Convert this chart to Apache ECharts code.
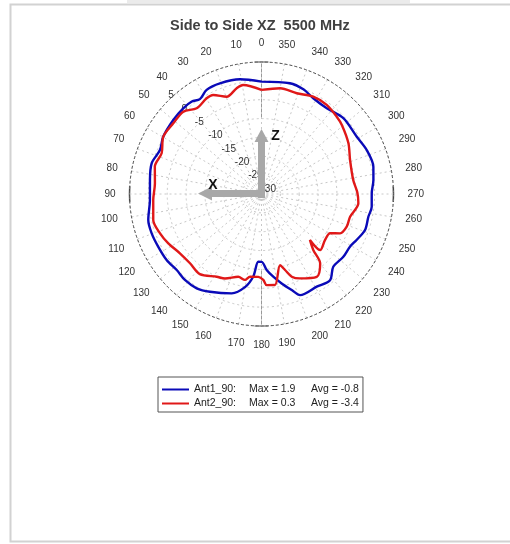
<!DOCTYPE html>
<html>
<head>
<meta charset="utf-8">
<script src="https://cdn.jsdelivr.net/npm/echarts@6/dist/echarts.min.js"></script>
<style>
html,body{margin:0;padding:0;background:#fff;}
#chart{width:510px;height:544px;}
</style>
</head>
<body>
<div id="chart"></div>
<script>
const titleText = 'Side to Side XZ  5500 MHz';
const seriesNames = ['Ant1_90', 'Ant2_90'];
const seriesMax = ['1.9', '0.3'];
const seriesAvg = ['-0.8', '-3.4'];

const ant1Angles = [0, 10.6, 20.6, 27.8, 33, 37, 42.4, 50, 59.7, 66.6, 74.4, 82.8, 93.1, 102.9, 109.7, 117.1, 124.8, 131.9, 138.3, 145.5, 152.2, 163.3, 170.1, 174.3, 177.3, 180.2, 183.9, 188.1, 192.7, 197.5, 200.9, 210.8, 218.5, 224.6, 232.5, 239.2, 244.2, 250.8, 258, 263.4, 270.4, 277.1, 283.7, 292.7, 301, 312.8, 322.7, 331.6, 338.2, 345.6, 360];
const ant1Gain = [-0.2, 0.95, 1.35, 1.2, 0.0, 0.7, 0.77, 0.53, 0.16, -0.66, 0.24, -0.19, -0.37, 0.8, 0.93, 0.74, 0.64, 0.2, 0.53, 0.34, -0.7, -2.5, -5.0, -8, -12, -12, -9.8, -7.85, -5.7, -3.3, -1.3, -1.4, -0.8, -2.9, -2.65, -2.7, -2.0, -0.93, -1.03, -0.58, -0.77, -0.1, 0.53, 0.24, -0.53, -0.42, -1.43, -1.14, -0.1, 0.32, -0.2];

const ant2Angles = [0, 9.5, 13.2, 19.7, 26, 29.8, 37.1, 43.5, 51.3, 59.7, 67.8, 75.6, 84.3, 93.2, 103.5, 111.2, 117.9, 126, 134.1, 142.4, 151.6, 156.6, 164.3, 169.1, 172.1, 177.8, 181.2, 183.3, 188.4, 194.6, 197.2, 200.1, 204.5, 213.7, 220.2, 222.8, 226.5, 226.3, 234, 240.2, 243.4, 249, 255.6, 264.5, 271, 278.7, 291, 300.3, 310.7, 315.8, 323.8, 332, 340.7, 350, 360];
const ant2Gain = [-2.4, -0.7, -1.2, -2.6, -0.8, -0.75, -1.5, 0.1, -0.03, 0.16, -1.4, -0.8, -1.6, -1.25, -0.48, -1.14, -2.04, -3.26, -3.6, -3.2, -5.05, -5.6, -7.2, -6.8, -7.85, -8.0, -7.2, -5.8, -5.6, -10.5, -8.9, -6.65, -5.4, -3.6, -5.9, -9.8, -12.3, -8.5, -9.2, -9.05, -6.7, -5.8, -5.75, -4.2, -4.6, -5.4, -4.85, -3.3, -1.9, -1.4, -0.74, -0.77, -1.7, -1.54, -2.4];

const radiusMin = -30, radiusMax = 5, radiusStep = 5;
const angleStep = 10;

const CX = 261.5, CY = 194, R = 132;

function pairs(angles, gains) { return angles.map((a, i) => [gains[i], a]); }

const chart = echarts.init(document.getElementById('chart'), null, {renderer: 'canvas'});
const FONT = 'Liberation Sans, Arial, sans-serif';
const arrowColor = '#a8a8a8';
const txt = {fontFamily: FONT, fontSize: 10.5, color: '#222'};

chart.setOption({
  animation: false,
  backgroundColor: '#ffffff',
  title: {
    text: titleText, left: 170, top: 18, padding: 0,
    textStyle: {fontFamily: FONT, fontSize: 14.5, fontWeight: 'bold', color: '#404040'}
  },
  legend: {
    orient: 'vertical', left: 158, top: 377,
    padding: [7, 4, 3, 4], itemGap: 3, itemWidth: 27, itemHeight: 2,
    icon: 'rect',
    borderColor: '#555', borderWidth: 1, backgroundColor: '#fff',
    data: seriesNames,
    formatter: function (name) {
      const i = seriesNames.indexOf(name);
      return '{a|' + name + ':}{b|Max = ' + seriesMax[i] + '}{c|Avg = ' + seriesAvg[i] + '}';
    },
    textStyle: Object.assign({}, txt, {
      rich: {
        a: Object.assign({width: 55}, txt),
        b: Object.assign({width: 62}, txt),
        c: Object.assign({}, txt)
      }
    })
  },
  polar: [
    {center: [CX, CY], radius: R},
    {center: [CX, CY], radius: R}
  ],
  angleAxis: [
    {
      polarIndex: 0, type: 'value', min: 0, max: 360, interval: angleStep,
      startAngle: 90, clockwise: false,
      axisLine: {show: true, lineStyle: {color: '#555', width: 1, type: [3, 2]}},
      axisTick: {show: false},
      axisLabel: {
        margin: 14, align: 'center', verticalAlign: 'middle',
        fontFamily: FONT, fontSize: 10, color: '#333',
        formatter: v => (v === 360 ? '' : String(v))
      },
      splitLine: {show: true, lineStyle: {color: '#c8c8c8', width: 1, type: [2, 3]}}
    },
    {
      polarIndex: 1, type: 'value', min: 0, max: 360, startAngle: 135, clockwise: false,
      show: false
    }
  ],
  radiusAxis: [
    {
      polarIndex: 0, type: 'value', min: radiusMin, max: radiusMax, interval: radiusStep,
      axisLine: {show: false}, axisTick: {show: false}, axisLabel: {show: false},
      splitLine: {show: true, lineStyle: {color: '#c8c8c8', width: 1, type: [2, 3]}}
    },
    {
      polarIndex: 1, type: 'value', min: radiusMin, max: radiusMax, interval: radiusStep,
      axisLine: {show: false}, axisTick: {show: false}, splitLine: {show: false},
      axisLabel: {show: true, margin: 0, align: 'left', verticalAlign: 'bottom',
        fontFamily: FONT, fontSize: 10, color: '#333'}
    }
  ],
  series: [
    {
      name: seriesNames[0], type: 'line', coordinateSystem: 'polar', polarIndex: 0,
      data: pairs(ant1Angles, ant1Gain), symbol: 'none', smooth: 0.3,
      lineStyle: {color: '#0a0ab8', width: 2.4}, itemStyle: {color: '#0a0ab8'}, z: 3
    },
    {
      name: seriesNames[1], type: 'line', coordinateSystem: 'polar', polarIndex: 0,
      data: pairs(ant2Angles, ant2Gain), symbol: 'none', smooth: 0.3,
      lineStyle: {color: '#e01818', width: 2.4}, itemStyle: {color: '#e01818'}, z: 4
    }
  ],
  graphic: [
    {type: 'rect', shape: {x: 127, y: 0, width: 283, height: 3}, style: {fill: '#ebebeb'}, silent: true},
    {type: 'rect', shape: {x: 10.5, y: 4.5, width: 510, height: 537}, style: {fill: 'none', stroke: '#d2d2d2', lineWidth: 2}, silent: true},
    {type: 'line', shape: {x1: CX, y1: CY - R, x2: CX, y2: CY - 76}, style: {stroke: '#999', lineWidth: 1}, silent: true},
    {type: 'line', shape: {x1: CX, y1: CY + 76, x2: CX, y2: CY + R}, style: {stroke: '#999', lineWidth: 1}, silent: true},
    {type: 'line', shape: {x1: CX - 7, y1: CY - R, x2: CX + 7, y2: CY - R}, style: {stroke: '#888', lineWidth: 1.5}, silent: true},
    {type: 'line', shape: {x1: CX - 7, y1: CY + R, x2: CX + 7, y2: CY + R}, style: {stroke: '#888', lineWidth: 1.5}, silent: true},
    {type: 'arc', shape: {cx: CX, cy: CY, r: R, startAngle: Math.PI - 0.06, endAngle: Math.PI + 0.06}, style: {stroke: '#444', lineWidth: 1.5, fill: 'none'}, silent: true},
    {type: 'arc', shape: {cx: CX, cy: CY, r: R, startAngle: -0.06, endAngle: 0.06}, style: {stroke: '#444', lineWidth: 1.5, fill: 'none'}, silent: true},
    {type: 'polygon', z: 10, shape: {points: [[258, 198], [265, 198], [265, 142], [268.5, 142], [261.5, 129], [254.5, 142], [258, 142]]}, style: {fill: arrowColor}, silent: true},
    {type: 'polygon', z: 10, shape: {points: [[265, 190], [265, 197], [212, 197], [212, 200.5], [198, 193.5], [212, 186.5], [212, 190]]}, style: {fill: arrowColor}, silent: true},
    {type: 'text', z: 11, x: 275.5, y: 136, style: {text: 'Z', font: 'bold 14px ' + FONT, fill: '#111', align: 'center', verticalAlign: 'middle'}, silent: true},
    {type: 'text', z: 11, x: 213, y: 185, style: {text: 'X', font: 'bold 14px ' + FONT, fill: '#111', align: 'center', verticalAlign: 'middle'}, silent: true}
  ]
});
</script>
</body>
</html>
